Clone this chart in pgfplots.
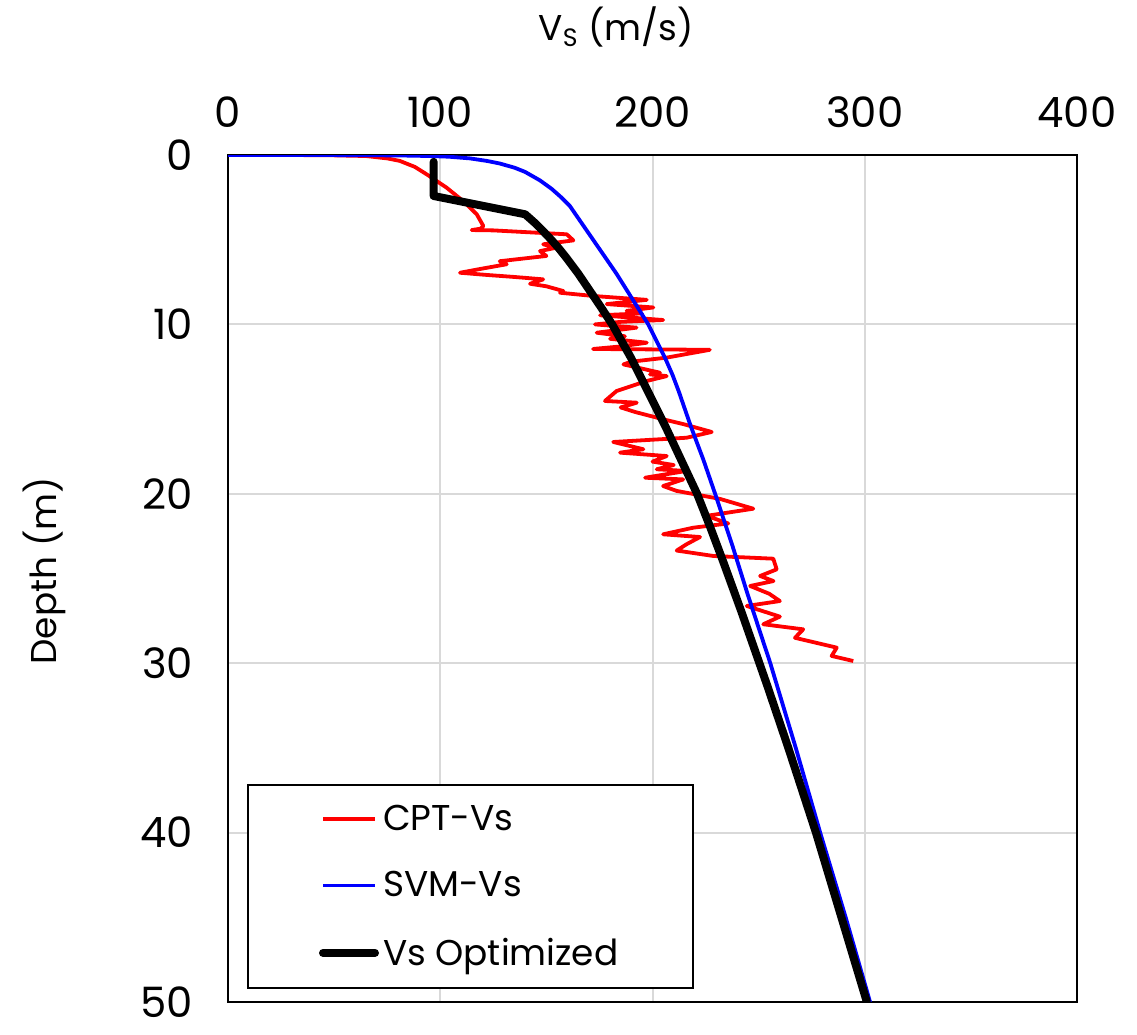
\documentclass[border=0pt]{standalone}
\usepackage{pgfplots}
\pgfplotsset{compat=1.18}
\usepackage{pgfplotstable}
\usepackage{fontspec}
\setmainfont{Poppins}
\definecolor{gridgray}{RGB}{217,217,217}

\pgfplotstableread{
V z
0 0
30 0
50 0.02
65 0.06
75 0.2
81 0.35
88 0.7
93.6 1.14
103 1.93
110.8 2.72
117.2 3.5
120.3 4.19
119 4.35
114.8 4.43
125 4.45
140 4.55
159.6 4.68
162.7 5.04
148.5 5.27
154.8 5.47
147 5.67
150 5.96
140 6.1
128 6.27
131.3 6.45
120 6.7
109.3 6.95
121.9 7.08
135 7.2
148.5 7.34
142.3 7.6
150 7.75
158 8.03
156.4 8.13
172 8.32
197.3 8.55
178.4 8.8
200.4 9.0
187.8 9.2
195 9.35
175.3 9.46
190 9.6
205 9.74
185 9.85
172.9 10.0
192.5 10.19
173.7 10.49
187 10.7
180 10.85
197.3 11.08
185 11.3
172 11.45
227 11.5
206.7 11.96
190 12.2
186.3 12.36
203.5 12.85
198.8 12.95
206.7 13.05
197.3 13.34
183.1 13.93
177.6 14.52
192.6 14.62
185 14.9
191.8 15.17
205 15.6
215 15.9
227.9 16.35
216 16.69
181.5 16.94
195.7 17.37
184.7 17.57
206.7 17.77
200 18.1
210 18.3
202 18.55
216 18.65
196.5 19.05
214.5 19.15
205 19.54
211.4 19.83
231.8 20.3
247.5 20.88
225.5 21.3
235.7 21.75
219.2 22.0
205 22.39
222.4 22.55
216 22.98
211.4 23.35
228.7 23.67
256.9 23.83
258.5 24.46
250.7 24.85
257 25.15
246 25.44
255 25.9
260 26.33
244.4 26.62
260 27.25
252.2 27.7
271 28.0
267.1 28.5
286.8 29.08
284.4 29.57
294.6 29.87
}\cptdata

\pgfplotstableread{
V z
0 0
40 0.002
65 0.01
82 0.03
95 0.06
104 0.1
114 0.2
122 0.35
128 0.5
135 0.75
140 1.0
147 1.5
152.5 2.0
157 2.5
161 3.0
166.5 4.0
172 5.0
177.5 6.0
183 7.0
188 8.0
193 9.0
198 10.0
202 11.0
206 12.0
209.5 13.0
212.5 14.0
218 16.0
224 18.0
229.5 20.0
237.5 23.0
245 26.0
255.5 30.0
267.5 35.0
279 40.0
291 45.0
302.5 50.0
}\svmdata

\pgfplotstableread{
V z
96.9 0.4
96.9 2.42
140 3.5
144.5 4.0
148.5 4.5
152.3 5.0
155.8 5.5
159 6.0
165 7.0
170.4 8.0
175.8 9.0
181 10.0
185.5 11.0
190 12.0
194 13.0
198 14.0
202 15.0
206 16.0
213.5 18.0
221 20.0
227.3 22.0
233.3 24.0
242 27.0
254 31.3
264 35.0
277 40.0
289 45.0
301 50.0
}\optdata

\begin{document}
\begin{tikzpicture}
\begin{axis}[
  name=ax,
  scale only axis,
  width=424.5bp, height=423.5bp,
  xmin=0, xmax=400, ymin=0, ymax=50,
  y dir=reverse,
  xtick={0,100,...,400}, ytick={0,10,...,50},
  xticklabel pos=upper,
  major tick length=0pt,
  grid=major,
  grid style={gridgray, line width=1bp},
  axis line style={black, line width=1bp},
  tick label style={font=\fontsize{21}{25}\selectfont},
  /pgf/number format/assume math mode=true,
  xticklabel shift=10bp,
  yticklabel shift=14bp,
  xlabel={V\textsubscript{S} (m/s)},
  ylabel={Depth (m)},
  label style={font=\fontsize{18}{22}\selectfont},
  xlabel style={at={(axis description cs:0.457,1)}, anchor=center, yshift=64bp},
  ylabel style={at={(axis description cs:-0.2167,0.509)}, anchor=center},
  legend cell align=left,
  legend style={
    at={(axis description cs:0,0)}, anchor=south west,
    xshift=9.5bp, yshift=6.5bp,
    draw=black, line width=1bp,
    inner xsep=35.5bp, inner ysep=8bp,
    row sep=15bp,
    font=\fontsize{18}{22}\selectfont,
    nodes={inner sep=2bp},
  },
  legend image code/.code={\draw[#1] (0bp,0bp) -- (26bp,0bp);},
]
\addplot[red, line width=1.9bp, line join=round] table[x=V, y=z] {\cptdata};
\addlegendentry{CPT-Vs}
\addplot[blue, line width=1.9bp, line join=round] table[x=V, y=z] {\svmdata};
\addlegendentry{SVM-Vs}
\addplot[black, line width=4bp, line join=round, line cap=round] table[x=V, y=z] {\optdata};
\addlegendentry{Vs Optimized}
\end{axis}
\pgfresetboundingbox
\useasboundingbox ([shift={(-114bp,-16bp)}]ax.south west) rectangle ([shift={(30bp,77.5bp)}]ax.north east);
\end{tikzpicture}
\end{document}
